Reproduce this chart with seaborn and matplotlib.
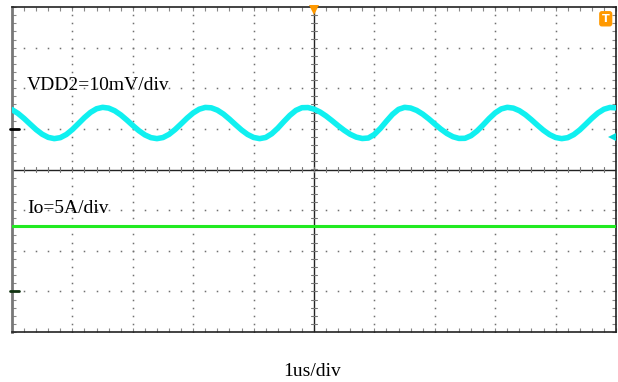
import numpy as np
import pandas as pd
import matplotlib
matplotlib.use("Agg")
import matplotlib.pyplot as plt
from matplotlib.ticker import MultipleLocator, NullFormatter
import seaborn as sns

# ---- data (time in us, amplitude in screen divisions) ----
t_vdd = np.round(np.linspace(0.0, 10.0, 101), 1)  # scope sample clock, 0.1 us
vdd2 = [1.474, 1.380, 1.256, 1.117, 0.981, 0.868, 0.791, 0.760, 0.784, 0.862,
        0.984, 1.130, 1.278, 1.406, 1.495, 1.530, 1.511, 1.446, 1.345, 1.219,
        1.084, 0.956, 0.852, 0.784, 0.760, 0.787, 0.865, 0.983, 1.123, 1.267,
        1.393, 1.484, 1.528, 1.518, 1.461, 1.365, 1.240, 1.104, 0.973, 0.863,
        0.789, 0.760, 0.788, 0.879, 1.016, 1.178, 1.332, 1.455, 1.521, 1.525,
        1.487, 1.415, 1.316, 1.200, 1.078, 0.964, 0.866, 0.797, 0.763, 0.775,
        0.863, 1.013, 1.190, 1.358, 1.480, 1.530, 1.513, 1.455, 1.363, 1.247,
        1.119, 0.995, 0.887, 0.807, 0.765, 0.768, 0.832, 0.948, 1.097, 1.255,
        1.394, 1.491, 1.530, 1.511, 1.448, 1.349, 1.225, 1.091, 0.964, 0.859,
        0.788, 0.760, 0.783, 0.858, 0.974, 1.116, 1.261, 1.390, 1.483, 1.527,
        1.518]
t_io = [0.0, 10.0]
io = [-1.40, -1.40]

label_ch1 = "VDD2=10mV/div"
label_ch2 = "Io=5A/div"
label_x = "1us/div"

df_vdd = pd.DataFrame({"t": t_vdd, "v": vdd2})
df_io = pd.DataFrame({"t": t_io, "v": io})

sns.set_style("white")
plt.rcParams["font.family"] = ["Liberation Serif", "DejaVu Serif"]
plt.rcParams["text.color"] = "black"

fig = plt.figure(figsize=(6.18, 3.82), dpi=100)
ax = fig.add_axes([12 / 618, 1 - 332 / 382, 604 / 618, 325 / 382])
ax.set_xlim(0, 10)
ax.set_ylim(-4, 4)

# dotted graticule
dot_c = "#707070"
ys_minor = np.arange(-4, 4.01, 0.2)
xs_minor = np.arange(0, 10.01, 0.2)
for gx in [1, 2, 3, 4, 6, 7, 8, 9]:
    ax.plot(np.full_like(ys_minor, gx), ys_minor, ls="none", marker="s",
            ms=1.1, mew=0, color=dot_c, zorder=1)
for gy in [-3, -2, -1, 1, 2, 3]:
    ax.plot(xs_minor, np.full_like(xs_minor, gy), ls="none", marker="s",
            ms=1.1, mew=0, color=dot_c, zorder=1)

# centre cross with tick marks
ax.axhline(0, color="#222222", lw=1.0, zorder=2)
ax.axvline(5, color="#222222", lw=1.0, zorder=2)
for xv in xs_minor:
    ax.plot([xv, xv], [-0.07, 0.07], color="#777777", lw=0.8, zorder=2)
for yv in ys_minor:
    ax.plot([4.95, 5.05], [yv, yv], color="#777777", lw=0.8, zorder=2)

# traces
sns.lineplot(data=df_vdd, x="t", y="v", ax=ax, color="#10f0f0", lw=4.0,
             zorder=4, legend=False)
sns.lineplot(data=df_io, x="t", y="v", ax=ax, color="#22ea22", lw=2.2,
             zorder=4, legend=False)

# text labels
ax.text(0.25, 2.07, label_ch1, fontsize=14, va="center", ha="left", zorder=5,
        color="black")
ax.text(0.25, -0.96, label_ch2, fontsize=14, va="center", ha="left", zorder=5,
        color="black")
fig.text(312 / 618, 1 - 372 / 382, label_x, fontsize=14, ha="center",
         va="center", color="black")

# channel markers on left
ax.plot([-0.03, 0.12], [1.0, 1.0], color="black", lw=2, clip_on=False, zorder=6)
ax.plot([-0.03, 0.12], [-3.0, -3.0], color="#113311", lw=2, clip_on=False, zorder=6)

# trigger markers
ax.plot([5], [3.92], marker="v", ms=7, color="#ff9900", mew=0, clip_on=False, zorder=6)
ax.text(9.83, 3.71, "T", fontsize=8, color="white", fontweight="bold",
        family="DejaVu Sans", ha="center", va="center", zorder=6,
        bbox=dict(boxstyle="round,pad=0.18", fc="#ff9900", ec="#ff9900"))
ax.plot([9.93], [0.79], marker="<", ms=6, color="#00dddd", mew=0, zorder=6)

# ticks & spines
ax.xaxis.set_major_locator(MultipleLocator(1))
ax.yaxis.set_major_locator(MultipleLocator(1))
ax.xaxis.set_minor_locator(MultipleLocator(0.2))
ax.yaxis.set_minor_locator(MultipleLocator(0.2))
ax.xaxis.set_major_formatter(NullFormatter())
ax.yaxis.set_major_formatter(NullFormatter())
ax.tick_params(which="both", direction="in", top=True, right=True,
               bottom=True, left=True, color="#888888", width=0.8)
ax.tick_params(which="major", length=3)
ax.tick_params(which="minor", length=3)
ax.set_xlabel("")
ax.set_ylabel("")
for side, sp in ax.spines.items():
    sp.set_visible(True)
    sp.set_color("#222222")
    sp.set_linewidth(1.2)
ax.spines["left"].set_color("#777777")
ax.spines["left"].set_linewidth(2)

fig.savefig("out.png", dpi=100)
